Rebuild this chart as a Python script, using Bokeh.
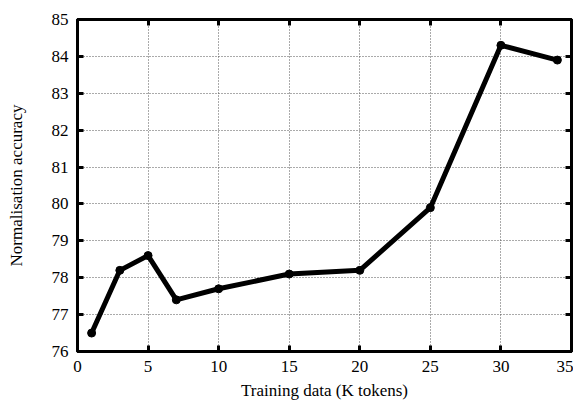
from bokeh.plotting import figure
from bokeh.models import LinearAxis, FixedTicker, Range1d
from bokeh.embed import file_html
from bokeh.resources import INLINE

x_vals = [1, 3, 5, 7, 10, 15, 20, 25, 30, 34]
accuracy = [76.5, 78.2, 78.6, 77.4, 77.7, 78.1, 78.2, 79.9, 84.3, 83.9]
x_ticks = [0, 5, 10, 15, 20, 25, 30, 35]
y_ticks = [76, 77, 78, 79, 80, 81, 82, 83, 84, 85]

FONT = "Liberation Serif"

p = figure(width=573, height=402, output_backend="svg", toolbar_location=None,
           x_range=Range1d(0, 35), y_range=Range1d(76, 85),
           min_border_left=77, min_border_right=2, min_border_top=19, min_border_bottom=41,
           x_axis_label="Training data (K tokens)", y_axis_label="Normalisation accuracy")

p.outline_line_color = "black"
p.outline_line_width = 3
p.background_fill_color = "white"
p.border_fill_color = "white"

for ax in (p.xaxis[0], p.yaxis[0]):
    ax.major_label_text_font = FONT
    ax.major_label_text_font_size = "17px"
    ax.major_label_text_color = "black"
    ax.axis_label_text_font = FONT
    ax.axis_label_text_font_size = "17px"
    ax.axis_label_text_font_style = "normal"
    ax.axis_label_text_color = "black"
    ax.axis_line_width = 3
    ax.axis_line_color = "black"
    ax.major_tick_in = 6
    ax.major_tick_out = 0
    ax.major_tick_line_width = 3
    ax.major_tick_line_color = "black"
    ax.minor_tick_line_color = None
p.xaxis[0].ticker = FixedTicker(ticks=x_ticks)
p.yaxis[0].ticker = FixedTicker(ticks=y_ticks)
p.xaxis[0].major_label_standoff = 9
p.yaxis[0].major_label_standoff = 9
p.xaxis[0].axis_label_standoff = 6
p.yaxis[0].axis_label_standoff = 23

top = LinearAxis(ticker=FixedTicker(ticks=x_ticks),
                 major_label_overrides={t: "" for t in x_ticks},
                 major_tick_in=6, major_tick_out=0, major_tick_line_width=3,
                 minor_tick_line_color=None, axis_line_width=3, major_label_standoff=0)
right = LinearAxis(ticker=FixedTicker(ticks=y_ticks),
                   major_label_overrides={t: "" for t in y_ticks},
                   major_tick_in=6, major_tick_out=0, major_tick_line_width=3,
                   minor_tick_line_color=None, axis_line_width=3, major_label_standoff=0)
p.add_layout(top, "above")
p.add_layout(right, "right")

p.xgrid.ticker = FixedTicker(ticks=x_ticks)
p.ygrid.ticker = FixedTicker(ticks=y_ticks)
p.grid.grid_line_color = "#555555"
p.grid.grid_line_dash = "1 2"
p.grid.grid_line_width = 1

p.line(x_vals, accuracy, line_color="black", line_width=5, line_join="round")
p.scatter(x_vals, accuracy, size=8, color="black")

open("out.html", "w").write(file_html(p, INLINE))
